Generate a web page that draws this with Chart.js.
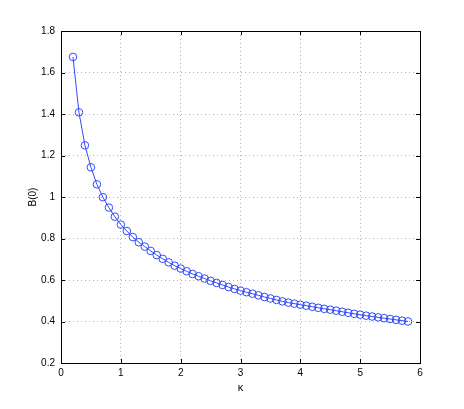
<!DOCTYPE html>
<html>
<head>
<meta charset="utf-8">
<script src="https://cdn.jsdelivr.net/npm/chart.js@4"></script>
<style>
  html, body { margin: 0; padding: 0; background: #fff; }
  canvas { display: block; }
</style>
</head>
<body>
<canvas id="bChart" width="464" height="409"></canvas>
<script>
// ===== B(0) vs kappa =====

// kappa values (x)
const kappa = [0.2, 0.3, 0.4, 0.5, 0.6, 0.7, 0.8, 0.9, 1.0, 1.1, 1.2, 1.3, 1.4, 1.5,
  1.6, 1.7, 1.8, 1.9, 2.0, 2.1, 2.2, 2.3, 2.4, 2.5, 2.6, 2.7, 2.8, 2.9, 3.0, 3.1,
  3.2, 3.3, 3.4, 3.5, 3.6, 3.7, 3.8, 3.9, 4.0, 4.1, 4.2, 4.3, 4.4, 4.5, 4.6, 4.7,
  4.8, 4.9, 5.0, 5.1, 5.2, 5.3, 5.4, 5.5, 5.6, 5.7, 5.8];

// B(0) values
const b0 = [1.675, 1.408, 1.249, 1.143, 1.061, 0.999, 0.949, 0.905, 0.867, 0.836,
  0.807, 0.782, 0.761, 0.740, 0.720, 0.702, 0.685, 0.669, 0.655, 0.642, 0.629,
  0.618, 0.607, 0.596, 0.586, 0.576, 0.566, 0.557, 0.549, 0.541, 0.534, 0.526,
  0.518, 0.511, 0.504, 0.497, 0.491, 0.486, 0.481, 0.476, 0.471, 0.466, 0.461,
  0.457, 0.452, 0.447, 0.442, 0.437, 0.433, 0.428, 0.424, 0.420, 0.416, 0.412,
  0.408, 0.404, 0.400];

// axis ticks
const xTicks = [0, 1, 2, 3, 4, 5, 6];
const yTicks = [0.2, 0.4, 0.6, 0.8, 1.0, 1.2, 1.4, 1.6, 1.8];

const FONT = { family: 'Liberation Sans, Arial, sans-serif', size: 10 };
const GRID = '#b4b4b4';

// box around plot + inward tick marks (matlab look)
const boxPlugin = {
  id: 'box',
  afterDraw(chart) {
    const { ctx, chartArea: a, scales } = chart;
    ctx.save();
    ctx.strokeStyle = '#000';
    ctx.lineWidth = 1;
    ctx.beginPath();
    xTicks.forEach(v => {
      const x = Math.round(scales.x.getPixelForValue(v)) + 0.5;
      ctx.moveTo(x, a.bottom); ctx.lineTo(x, a.bottom - 4);
      ctx.moveTo(x, a.top); ctx.lineTo(x, a.top + 4);
    });
    yTicks.forEach(v => {
      const y = Math.round(scales.y.getPixelForValue(v)) + 0.5;
      ctx.moveTo(a.left, y); ctx.lineTo(a.left + 4, y);
      ctx.moveTo(a.right, y); ctx.lineTo(a.right - 4, y);
    });
    ctx.stroke();
    ctx.strokeRect(Math.round(a.left) + 0.5, Math.round(a.top) + 0.5,
      Math.round(a.right - a.left), Math.round(a.bottom - a.top));
    ctx.restore();
  }
};

const edgeColor = (scaleTicks) => (c) =>
  (c.index === 0 || c.index === scaleTicks.length - 1) ? 'rgba(0,0,0,0)' : GRID;

new Chart(document.getElementById('bChart').getContext('2d'), {
  type: 'line',
  data: {
    datasets: [{
      data: kappa.map((k, i) => ({ x: k, y: b0[i] })),
      borderColor: '#3048ff',
      borderWidth: 1,
      pointStyle: 'circle',
      pointRadius: 3.8,
      pointBorderWidth: 1,
      pointBorderColor: '#3048ff',
      pointBackgroundColor: 'rgba(0,0,0,0)',
      tension: 0
    }]
  },
  options: {
    responsive: false,
    animation: false,
    layout: { padding: { top: 31, right: 44, left: 0, bottom: 0 } },
    plugins: { legend: { display: false }, tooltip: { enabled: false } },
    scales: {
      x: {
        type: 'linear',
        min: 0, max: 6,
        afterBuildTicks: s => { s.ticks = xTicks.map(v => ({ value: v })); },
        afterFit: s => { s.height = 46; },
        border: { display: false, dash: [1, 3] },
        grid: { color: edgeColor(xTicks), drawTicks: false, lineWidth: 1 },
        ticks: { color: '#000', font: FONT, padding: 4, maxRotation: 0,
          callback: v => String(v) },
        title: { display: true, text: 'κ', color: '#000', font: { ...FONT, size: 11 },
          padding: { top: 0, bottom: 14 } }
      },
      y: {
        type: 'linear',
        min: 0.2, max: 1.8,
        afterBuildTicks: s => { s.ticks = yTicks.map(v => ({ value: v })); },
        afterFit: s => { s.width = 61; },
        border: { display: false, dash: [1, 3] },
        grid: { color: edgeColor(yTicks), drawTicks: false, lineWidth: 1 },
        ticks: { color: '#000', font: FONT, padding: 6,
          callback: v => String(Number(v.toFixed(1))) },
        title: { display: true, text: 'B(0)', color: '#000', font: FONT,
          padding: { top: 27, bottom: 0 } }
      }
    }
  },
  plugins: [boxPlugin]
});
</script>
</body>
</html>
